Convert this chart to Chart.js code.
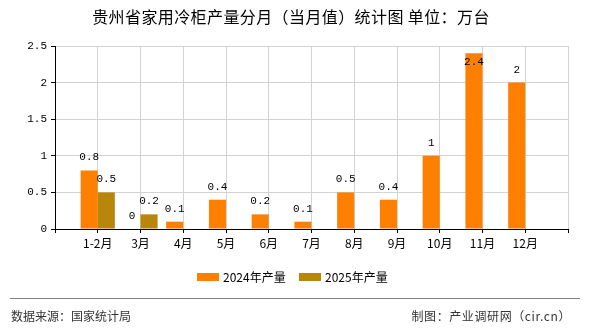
<!DOCTYPE html>
<html>
<head>
<meta charset="utf-8">
<script src="https://cdn.jsdelivr.net/npm/chart.js@4/dist/chart.umd.min.js"></script>
<style>
html,body{margin:0;padding:0;background:#fff;}
#wrap{width:590px;height:330px;position:relative;}
</style>
</head>
<body>
<div id="wrap"><canvas id="c" width="590" height="330"></canvas></div>
<script>
const titleText = '贵州省家用冷柜产量分月（当月值）统计图 单位：万台';
const categories = ['', '1-2月', '3月', '4月', '5月', '6月', '7月', '8月', '9月', '10月', '11月', '12月', ''];
const series2024 = [null, 0.8, 0, 0.1, 0.4, 0.2, 0.1, 0.5, 0.4, 1, 2.4, 2, null];
const series2025 = [null, 0.5, 0.2, null, null, null, null, null, null, null, null, null, null];
const seriesNames = ['2024年产量', '2025年产量'];
const yTicks = [0, 0.5, 1, 1.5, 2, 2.5];
const sourceText = '数据来源：国家统计局';
const makerText = '制图：产业调研网（cir.cn）';

const colors = ['#FF8000', '#B8860B'];

const extras = {
  id: 'extras',
  afterDatasetsDraw(chart) {
    const ctx = chart.ctx;
    const area = chart.chartArea;
    ctx.save();
    ctx.font = '11px "Liberation Mono", "DejaVu Sans Mono", monospace';
    ctx.fillStyle = '#000';
    ctx.textAlign = 'center';
    ctx.textBaseline = 'middle';
    chart.data.datasets.forEach((ds, di) => {
      const meta = chart.getDatasetMeta(di);
      meta.data.forEach((bar, i) => {
        const v = ds.data[i];
        if (v === null || v === undefined) return;
        let y = bar.y - 13;
        if (y < area.top + 4) y = bar.y + 9;
        ctx.fillText(String(v), bar.x, y);
      });
    });
    ctx.restore();
  },
  afterDraw(chart) {
    const ctx = chart.ctx;
    ctx.save();
    // title
    ctx.fillStyle = '#000';
    ctx.font = '16px "Noto Sans CJK SC", sans-serif';
    ctx.letterSpacing = '0.4px';
    ctx.textAlign = 'center';
    ctx.textBaseline = 'middle';
    ctx.fillText(titleText, 291, 17);
    ctx.letterSpacing = '0px';
    // legend
    ctx.font = '12px "Noto Sans CJK SC", sans-serif';
    ctx.textAlign = 'left';
    const legendX = [197, 299];
    chart.data.datasets.forEach((ds, di) => {
      ctx.fillStyle = ds.backgroundColor;
      ctx.fillRect(legendX[di], 273, 22, 8);
      ctx.fillStyle = '#000';
      ctx.fillText(ds.label, legendX[di] + 26, 277);
    });
    // separator
    ctx.strokeStyle = '#808080';
    ctx.lineWidth = 1;
    ctx.beginPath();
    ctx.moveTo(10, 298.5);
    ctx.lineTo(580, 298.5);
    ctx.stroke();
    // footer
    ctx.fillStyle = '#333';
    ctx.font = '12px "Noto Sans CJK SC", sans-serif';
    ctx.textAlign = 'left';
    ctx.fillText(sourceText, 11, 316);
    ctx.textAlign = 'right';
    ctx.letterSpacing = '0.6px';
    ctx.fillText(makerText, 571, 316);
    ctx.restore();
  }
};

new Chart(document.getElementById('c'), {
  type: 'bar',
  data: {
    labels: categories,
    datasets: [
      { label: seriesNames[0], data: series2024, backgroundColor: colors[0], borderWidth: 0 },
      { label: seriesNames[1], data: series2025, backgroundColor: colors[1], borderWidth: 0 }
    ]
  },
  options: {
    responsive: false,
    animation: false,
    devicePixelRatio: 1,
    layout: { padding: { left: 0, right: 22, top: 46, bottom: 71 } },
    plugins: {
      legend: { display: false },
      title: { display: false },
      tooltip: { enabled: false }
    },
    datasets: { bar: { categoryPercentage: 0.8, barPercentage: 1.0 } },
    scales: {
      x: {
        type: 'category',
        offset: false,
        grid: { offset: false, color: '#d3d3d3', tickColor: '#000', tickLength: 4, drawTicks: true },
        border: { color: '#000', width: 1 },
        ticks: {
          color: '#000',
          font: { size: 12, family: '"Noto Sans CJK SC", sans-serif' },
          padding: 3,
          maxRotation: 0,
          autoSkip: false
        },
        afterFit(scale) { scale.height = 30; }
      },
      y: {
        min: 0,
        max: 2.5,
        afterBuildTicks(scale) { scale.ticks = yTicks.map(v => ({ value: v })); },
        grid: { color: '#d3d3d3', tickColor: '#000', tickLength: 4 },
        border: { color: '#000', width: 1 },
        ticks: {
          color: '#000',
          font: { size: 11, family: '"Liberation Mono", "DejaVu Sans Mono", monospace' },
          padding: 4,
          callback: (v) => String(v)
        },
        afterFit(scale) { scale.width = 55; }
      }
    }
  },
  plugins: [extras]
});
</script>
</body>
</html>
